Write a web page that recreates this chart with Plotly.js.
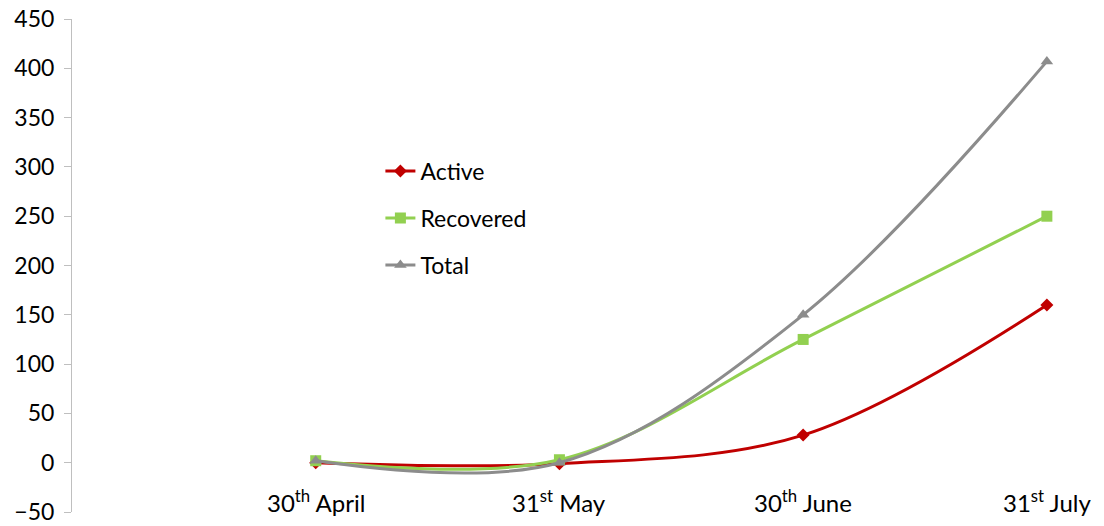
<!DOCTYPE html>
<html>
<head>
<meta charset="utf-8">
<script src="https://cdn.plot.ly/plotly-3.0.1.min.js"></script>
<style>html,body{margin:0;padding:0;background:#fff;}#chart{width:1104px;height:526px;}</style>
</head>
<body>
<div id="chart"></div>
<script>
const categories = ["30th April", "31st May", "30th June", "31st July"];
const tickLabels = ["30<sup>th</sup> April", "31<sup>st</sup> May", "30<sup>th</sup> June", "31<sup>st</sup> July"];
const active = [0, -1, 28, 160];
const recovered = [2, 3, 125, 250];
const total = [2, 0, 150, 407];
const yTicks = [-50, 0, 50, 100, 150, 200, 250, 300, 350, 400, 450];

const FONT = "Lato, 'Open Sans', sans-serif";

function mk(name, y, color, symbol, size) {
  return {
    type: "scatter", mode: "lines+markers", name: name, x: categories, y: y,
    legendgroup: name,
    line: {color: color, width: 3, shape: "spline", smoothing: 1},
    marker: {color: color, symbol: symbol, size: size}
  };
}
const data = [
  mk("Active", active, "#C00000", "diamond", 10),
  mk("Recovered", recovered, "#92D050", "square", 11),
  mk("Total", total, "#8C8C8C", "triangle-up", 11)
];

const layout = {
  width: 1104, height: 526,
  margin: {l: 72, r: 4, t: 19, b: 14},
  paper_bgcolor: "#fff", plot_bgcolor: "#fff",
  font: {family: FONT, size: 22, color: "#000"},
  showlegend: true,
  legend: {x: 0.30, xanchor: "left", y: 0.735, yanchor: "top", font: {family: FONT, size: 23, color: "#000"},
           tracegroupgap: 14, bgcolor: "rgba(0,0,0,0)"},
  xaxis: {type: "category", categoryarray: categories, range: [-1, 3.218], showticklabels: false,
          showline: false, ticks: "", showgrid: false, zeroline: false, fixedrange: true},
  yaxis: {range: [-50, 450], tickvals: yTicks, showgrid: false, zeroline: false, showline: true,
          linecolor: "#BFBFBF", linewidth: 1, ticks: "outside", ticklen: 7, tickcolor: "#BFBFBF",
          tickfont: {family: FONT, size: 23, color: "#000"}, ticklabelstandoff: 5},
  annotations: categories.map((c, i) => ({
    x: c, xref: "x", y: 0.022, yref: "paper", yanchor: "middle", xanchor: "center",
    text: tickLabels[i], showarrow: false, font: {family: FONT, size: 24, color: "#000"}
  }))
};

Plotly.newPlot("chart", data, layout, {displayModeBar: false, staticPlot: true});
</script>
</body>
</html>
